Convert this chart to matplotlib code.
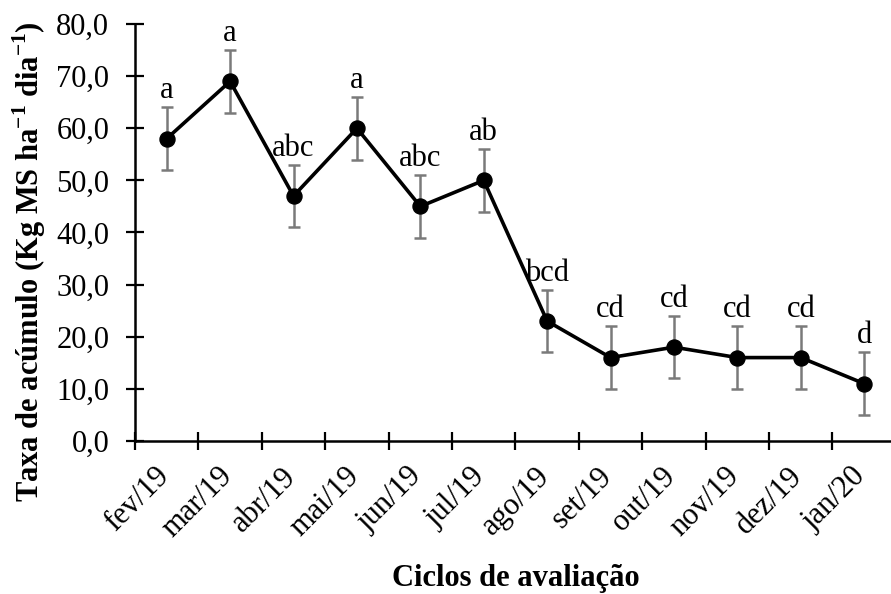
import matplotlib
matplotlib.use('Agg')
import matplotlib.pyplot as plt
from matplotlib.ticker import FuncFormatter
from matplotlib.transforms import ScaledTranslation

# Taxa de acúmulo por ciclo de avaliação
ciclos = ['fev/19', 'mar/19', 'abr/19', 'mai/19', 'jun/19', 'jul/19',
          'ago/19', 'set/19', 'out/19', 'nov/19', 'dez/19', 'jan/20']
taxa = [58, 69, 47, 60, 45, 50, 23, 16, 18, 16, 16, 11]
erro = [6, 6, 6, 6, 6, 6, 6, 6, 6, 6, 6, 6]
letras = ['a', 'a', 'abc', 'a', 'abc', 'ab', 'bcd', 'cd', 'cd', 'cd', 'cd', 'd']

plt.rcParams['font.family'] = ['Liberation Serif', 'DejaVu Serif']
plt.rcParams['mathtext.fontset'] = 'custom'
plt.rcParams['mathtext.rm'] = 'Liberation Serif'
plt.rcParams['mathtext.bf'] = 'Liberation Serif:bold'

fig = plt.figure(figsize=(8.91, 5.94), dpi=100)
ax = fig.add_axes([0.1515, 0.2576, 0.854, 0.702])

x = list(range(len(ciclos)))
ax.errorbar(x, taxa, yerr=erro, fmt='none', ecolor='#7a7a7a',
            elinewidth=1.8, capsize=4.5, capthick=1.8, zorder=2)
ax.plot(x, taxa, color='black', lw=2.6, marker='o', markersize=10.8, zorder=3)

for xi, yi, ei, l in zip(x, taxa, erro, letras):
    ax.annotate(l, (xi, yi + ei), xytext=(0, 6.5), textcoords='offset points',
                ha='center', va='baseline', fontsize=22)

ax.set_ylim(0, 80)
ax.set_xlim(-0.5, len(ciclos) - 0.5)
ax.set_yticks(range(0, 81, 10))
ax.yaxis.set_major_formatter(FuncFormatter(lambda v, p: f'{v:.1f}'.replace('.', ',')))

# marcas do eixo x entre as categorias, rótulos no centro
ax.set_xticks([i - 0.5 for i in range(len(ciclos) + 1)])
ax.set_xticklabels([])
ax.set_xticks(x, minor=True)
ax.set_xticklabels(ciclos, minor=True, rotation=45, ha='right',
                   rotation_mode='anchor', fontsize=22)
ax.tick_params(axis='x', which='minor', length=0, pad=15)
ax.tick_params(axis='x', which='major', direction='inout', length=13, width=1.6)
ax.tick_params(axis='y', direction='inout', length=13, width=1.6, labelsize=22, pad=12)

# desloca os rótulos inclinados para a esquerda (depois do tick_params)
desloc = ScaledTranslation(-9 / 72, 0, fig.dpi_scale_trans)
for lb in ax.get_xticklabels(minor=True):
    lb.set_transform(lb.get_transform() + desloc)

for s in ['top', 'right']:
    ax.spines[s].set_visible(False)
for s in ['left', 'bottom']:
    ax.spines[s].set_linewidth(1.8)

ax.set_ylabel(r'Taxa de acúmulo (Kg MS ha$^{\mathbf{-1}}$ dia$^{\mathbf{-1}}$)',
              fontsize=22, fontweight='bold')
ax.yaxis.set_label_coords(-0.114, 0.43)
ax.set_xlabel('Ciclos de avaliação', fontsize=22, fontweight='bold')
ax.xaxis.set_label_coords(0.5, -0.296)

fig.savefig('out.png', dpi=100)
